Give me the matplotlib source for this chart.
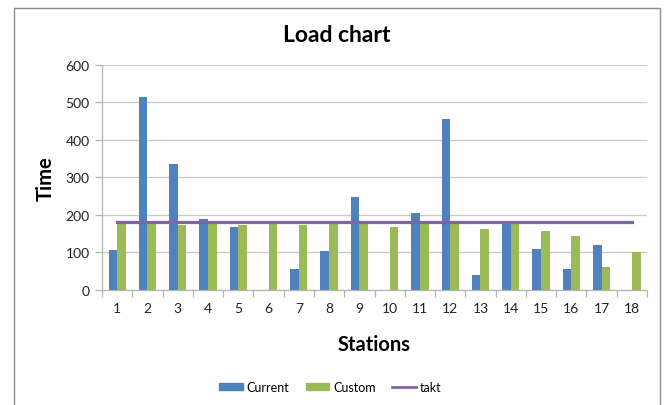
import matplotlib
matplotlib.use("Agg")
import matplotlib.pyplot as plt
import numpy as np
from matplotlib.patches import Rectangle
from matplotlib.lines import Line2D

stations = [str(i) for i in range(1, 19)]
current = [106, 514, 337, 190, 168, 0, 57, 104, 247, 0, 205, 456, 41, 180, 108, 57, 119, 0]
custom = [180, 180, 174, 180, 174, 176, 172, 180, 180, 167, 180, 176, 163, 180, 158, 145, 60, 101]
takt = [182] * 18

plt.rcParams['font.family'] = ['Lato', 'DejaVu Sans']

fig = plt.figure(figsize=(6.66, 4.06), dpi=100)
ax = fig.add_axes([0.1532, 0.2833, 0.8183, 0.5542])

x = np.arange(len(stations))
w = 0.286
blue = '#4F81BD'
green = '#9BBB59'
purple = '#8064A2'
ax.bar(x - w / 2, current, w, color=blue, label='Current', zorder=2)
ax.bar(x + w / 2, custom, w, color=green, label='Custom', zorder=2)
ax.plot(x, takt, color=purple, lw=2.3, label='takt', zorder=3)

ax.set_xlim(-0.5, len(stations) - 0.5)
ax.set_ylim(0, 600)
ax.set_yticks(range(0, 601, 100))
ax.yaxis.grid(True, color='#C8C8C8', lw=0.9, zorder=0)
ax.set_axisbelow(True)
for s in ['top', 'right']:
    ax.spines[s].set_visible(False)
for s in ['left', 'bottom']:
    ax.spines[s].set_color('#B4B4B4')
    ax.spines[s].set_linewidth(0.9)

ax.set_xticks(x)
ax.set_xticklabels(stations)
ax.tick_params(axis='x', length=0, labelsize=10, pad=9, colors='#222222')
ax.set_xticks(np.arange(-0.5, len(stations), 1), minor=True)
ax.tick_params(axis='x', which='minor', length=5, color='#B4B4B4', width=0.9)
ax.tick_params(axis='y', length=5, color='#B4B4B4', width=0.9, labelsize=10, pad=4)
ax.tick_params(axis='y', colors='#B4B4B4', labelcolor='#222222')

fig.text(337 / 666, 1 - 36 / 406, 'Load chart', ha='center', va='center', fontsize=16.5, fontweight='bold')
fig.text(46 / 666, 1 - 179 / 406, 'Time', ha='center', va='center', rotation=90, fontsize=14.5, fontweight='bold')
fig.text(374.5 / 666, 1 - 345 / 406, 'Stations', ha='center', va='center', fontsize=14.5, fontweight='bold')

handles = [Rectangle((0, 0), 1, 1, color=blue), Rectangle((0, 0), 1, 1, color=green),
           Line2D([0], [0], color=purple, lw=2.0)]
fig.legend(handles, ['Current', 'Custom', 'takt'], loc='center', bbox_to_anchor=(330 / 666, 1 - 388 / 406),
           ncol=3, frameon=False, fontsize=9, handlelength=1.9, handleheight=0.45, columnspacing=1.3,
           handletextpad=0.3)

fig.patches.append(Rectangle((14 / 666, -0.05), (660 - 14) / 666, (1 - 9 / 406) + 0.05,
                             transform=fig.transFigure, fill=False, edgecolor='#8C8C8C', lw=1.0))

fig.savefig('out.png', dpi=100)
